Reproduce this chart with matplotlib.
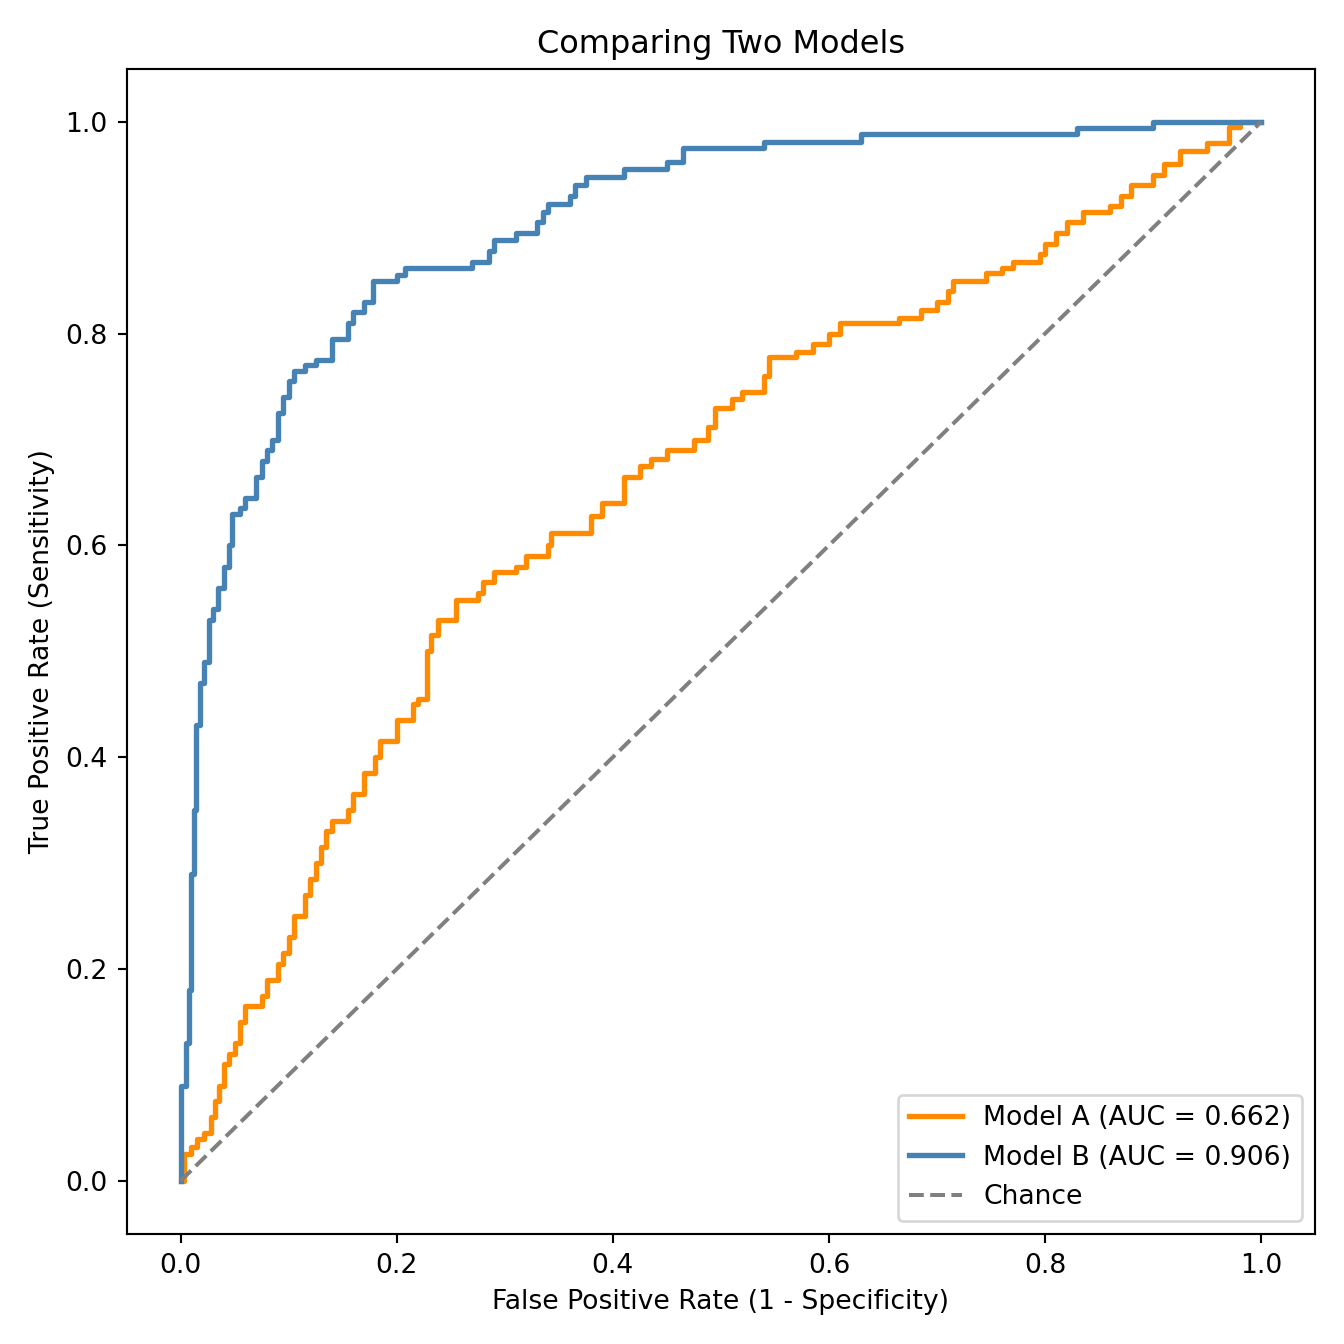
import matplotlib
matplotlib.use("Agg")
import matplotlib.pyplot as plt

fpr_a = [0, 0.003, 0.01, 0.015, 0.022, 0.028, 0.032, 0.036, 0.04, 0.045, 0.05, 0.055, 0.06, 0.075, 0.08, 0.09, 0.095, 0.1, 0.105, 0.115, 0.12, 0.125, 0.13, 0.135, 0.14, 0.155, 0.16, 0.17, 0.18, 0.185, 0.2, 0.215, 0.22, 0.228, 0.232, 0.238, 0.255, 0.275, 0.28, 0.29, 0.31, 0.32, 0.34, 0.343, 0.38, 0.39, 0.41, 0.425, 0.435, 0.45, 0.475, 0.488, 0.495, 0.51, 0.52, 0.54, 0.545, 0.57, 0.585, 0.6, 0.61, 0.665, 0.685, 0.7, 0.71, 0.715, 0.745, 0.76, 0.77, 0.795, 0.8, 0.81, 0.82, 0.835, 0.86, 0.87, 0.88, 0.9, 0.91, 0.925, 0.95, 0.97, 0.98, 1.0]
tpr_a = [0, 0.025, 0.032, 0.04, 0.045, 0.06, 0.075, 0.09, 0.11, 0.12, 0.13, 0.15, 0.165, 0.175, 0.19, 0.205, 0.215, 0.23, 0.25, 0.27, 0.285, 0.3, 0.315, 0.33, 0.34, 0.35, 0.365, 0.385, 0.4, 0.415, 0.435, 0.45, 0.455, 0.5, 0.515, 0.53, 0.548, 0.555, 0.565, 0.575, 0.58, 0.59, 0.6, 0.612, 0.628, 0.64, 0.665, 0.675, 0.682, 0.69, 0.7, 0.712, 0.73, 0.738, 0.745, 0.76, 0.778, 0.783, 0.79, 0.8, 0.81, 0.815, 0.822, 0.83, 0.84, 0.85, 0.857, 0.862, 0.868, 0.875, 0.885, 0.895, 0.905, 0.915, 0.92, 0.93, 0.94, 0.95, 0.96, 0.972, 0.98, 0.995, 1.0, 1.0]

fpr_b = [0, 0.0, 0.005, 0.008, 0.01, 0.012, 0.014, 0.018, 0.022, 0.026, 0.03, 0.035, 0.04, 0.045, 0.048, 0.055, 0.06, 0.07, 0.075, 0.08, 0.085, 0.09, 0.095, 0.1, 0.105, 0.115, 0.125, 0.14, 0.155, 0.16, 0.17, 0.178, 0.2, 0.208, 0.27, 0.285, 0.29, 0.31, 0.33, 0.335, 0.34, 0.36, 0.365, 0.375, 0.41, 0.45, 0.465, 0.54, 0.63, 0.83, 0.9, 1.0]
tpr_b = [0, 0.09, 0.13, 0.18, 0.29, 0.35, 0.43, 0.47, 0.49, 0.53, 0.54, 0.56, 0.58, 0.6, 0.63, 0.635, 0.645, 0.665, 0.68, 0.69, 0.7, 0.725, 0.74, 0.755, 0.765, 0.77, 0.775, 0.795, 0.81, 0.82, 0.83, 0.85, 0.855, 0.862, 0.868, 0.878, 0.888, 0.895, 0.905, 0.915, 0.922, 0.93, 0.94, 0.948, 0.955, 0.962, 0.975, 0.981, 0.988, 0.994, 1.0, 1.0]

auc_a, auc_b = 0.662, 0.906

fig, ax = plt.subplots(figsize=(7, 7), dpi=192)
ax.plot(fpr_a, tpr_a, drawstyle='steps-post', color='darkorange', lw=2, label=f'Model A (AUC = {auc_a:.3f})')
ax.plot(fpr_b, tpr_b, drawstyle='steps-post', color='steelblue', lw=2, label=f'Model B (AUC = {auc_b:.3f})')
ax.plot([0, 1], [0, 1], '--', color='gray', lw=1.5, label='Chance')
ax.set_xlabel('False Positive Rate (1 - Specificity)')
ax.set_ylabel('True Positive Rate (Sensitivity)')
ax.set_title('Comparing Two Models')
ax.legend(loc='lower right')
fig.tight_layout()
fig.savefig('out.png')
